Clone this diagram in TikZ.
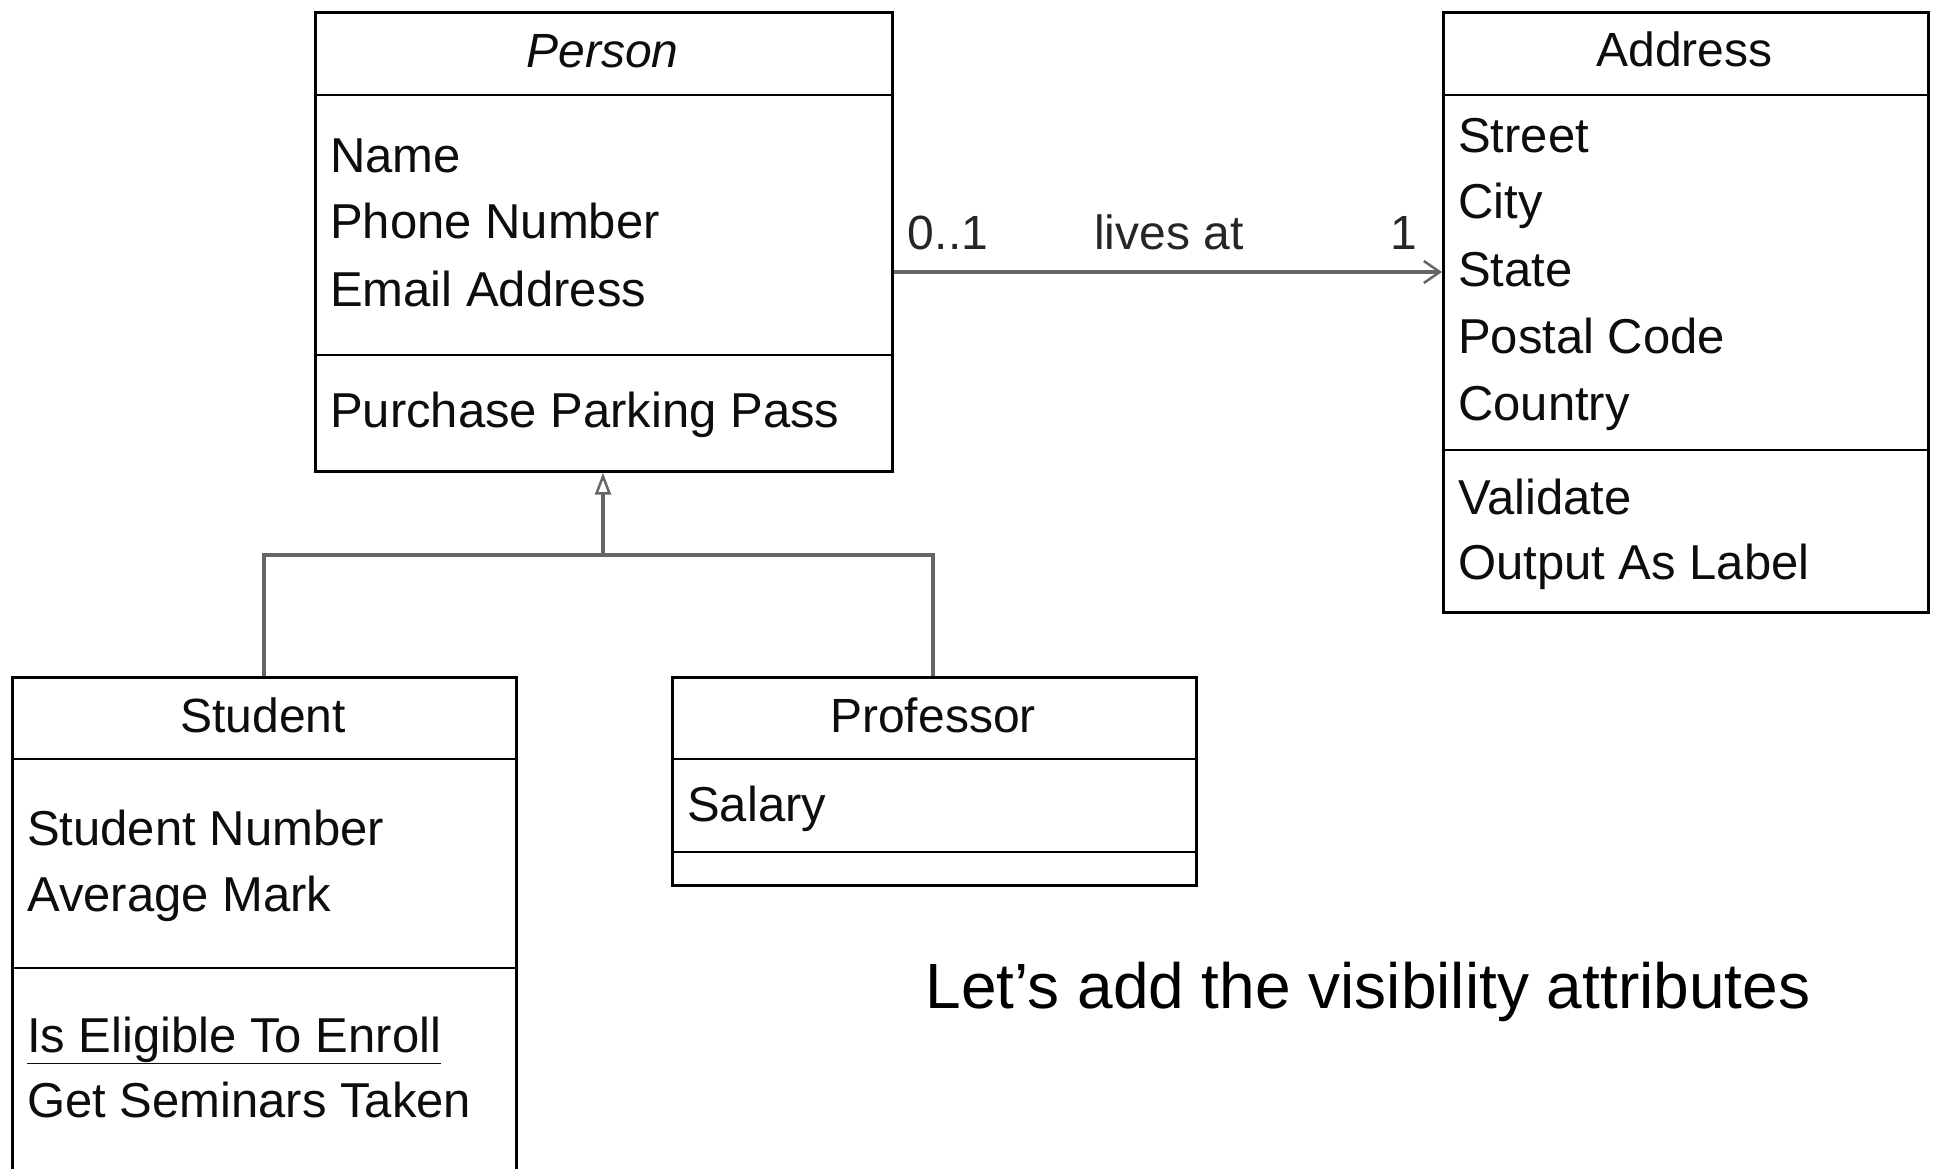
\documentclass[tikz,border=0pt]{standalone}
\usepackage{fontspec}
\setmainfont{Liberation Sans}
\usetikzlibrary{arrows.meta}

\tikzset{
  classbox/.style={draw=black, line width=2.7pt, rectangle, inner sep=0pt, anchor=north west},
  divider/.style={draw=black, line width=2.7pt},
  member/.style={anchor=base west, inner sep=0pt, text=black!95, font=\fontsize{49}{66}\selectfont},
  classname/.style={anchor=base, inner sep=0pt, text=black!95, font=\fontsize{48}{66}\selectfont},
  assoclabel/.style={anchor=base, inner sep=0pt, text=black!85, font=\fontsize{48}{66}\selectfont},
  connector/.style={draw=black!60, line width=3.2pt},
  caption/.style={anchor=base, inner sep=0pt, text=black, font=\fontsize{64}{76}\selectfont},
}

\begin{document}
\begin{tikzpicture}[x=1pt, y=-1pt]
  \useasboundingbox (0,0) rectangle (1933,1169);
  \clip (0,0) rectangle (1933,1169);
  \fill[white] (0,0) rectangle (1933,1169);

  % ---- Person ----
  \node[classbox, minimum width=577pt, minimum height=459pt] (person) at (314,11) {};
  \draw[divider] (person.west |- 0,95) -- (person.east |- 0,95);
  \draw[divider] (person.west |- 0,355) -- (person.east |- 0,355);
  \node[classname, font=\fontsize{48}{66}\selectfont\itshape] (personname) at (602.5,68) {Person};
  \node[member] (pname)  at (330,173) {Name};
  \node[member] (pphone) at (330,239) {Phone Number};
  \node[member] (pemail) at (330,306) {Email Address};
  \node[member] (ppark)  at (330,427) {Purchase Parking Pass};

  % ---- Address ----
  \node[classbox, minimum width=485pt, minimum height=600pt] (address) at (1442,11) {};
  \draw[divider] (address.west |- 0,95) -- (address.east |- 0,95);
  \draw[divider] (address.west |- 0,450) -- (address.east |- 0,450);
  \node[classname] (addressname) at (1684.5,67) {Address};
  \node[member] (astreet)  at (1458,153) {Street};
  \node[member] (acity)    at (1458,219) {City};
  \node[member] (astate)   at (1458,286) {State};
  \node[member] (apostal)  at (1458,353) {Postal Code};
  \node[member] (acountry) at (1458,420) {Country};
  \node[member] (avalid)   at (1458,514) {Validate};
  \node[member] (aoutput)  at (1458,579) {Output As Label};

  % ---- Student (runs past the lower edge) ----
  \node[classbox, minimum width=504pt, minimum height=520pt] (student) at (11,676) {};
  \draw[divider] (student.west |- 0,759) -- (student.east |- 0,759);
  \draw[divider] (student.west |- 0,968) -- (student.east |- 0,968);
  \node[classname] (studentname) at (263,732) {Student};
  \node[member] (snumber)  at (27,845) {Student Number};
  \node[member] (smark)    at (27,911) {Average Mark};
  \node[member] (senroll)  at (27,1052) {\underline{Is Eligible To Enroll}};
  \node[member] (sseminar) at (27,1117) {Get Seminars Taken};

  % ---- Professor ----
  \node[classbox, minimum width=524pt, minimum height=208pt] (professor) at (671,676) {};
  \draw[divider] (professor.west |- 0,759) -- (professor.east |- 0,759);
  \draw[divider] (professor.west |- 0,852) -- (professor.east |- 0,852);
  \node[classname] (professorname) at (933,732) {Professor};
  \node[member] (psalary) at (687,821) {Salary};

  % ---- Generalization ----
  \coordinate (fork) at (603,555);
  \draw[connector] (student.north -| 264,0) |- (fork);
  \draw[connector] (professor.north -| 933,0) |- (fork);
  \draw[connector, -{Triangle[open, length=22pt, width=16pt, line width=2.5pt]}]
    (fork) -- (person.south -| fork);

  % ---- Association ----
  \draw[connector, -{Straight Barb[length=16pt, width=22pt, line width=2.5pt]}]
    (person.east |- 0,272) -- (address.west |- 0,272);
  \node[assoclabel] (mult1) at (948,250) {0..1};
  \node[assoclabel] (assocname) at (1169,250) {lives at};
  \node[assoclabel] (mult2) at (1404,250) {1};

  % ---- Caption ----
  \node[caption] (note) at (1368,1008) {Let’s add the visibility attributes};
\end{tikzpicture}
\end{document}
